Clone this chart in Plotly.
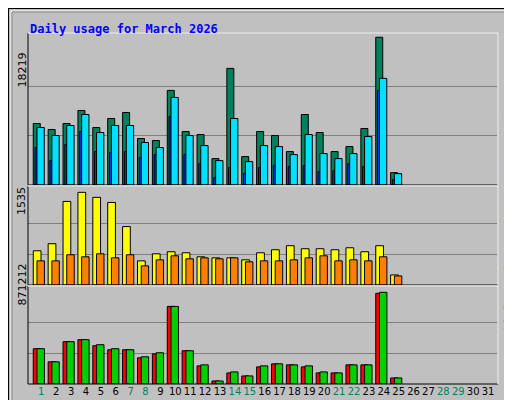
import plotly.graph_objects as go

days = list(range(1, 32))
data_days = list(range(1, 26))
hits_y = [346,364,346,307,358,331,313,391,397,247,370,379,451,181,445,370,382,430,319,373,430,415,361,88,493]
files_y = [358,382,352,319,373,352,352,403,418,268,382,412,457,331,460,412,415,439,379,436,451,436,385,211,496]
pages_y = [418,457,409,370,430,433,430,448,439,325,439,466,508,478,496,478,472,475,472,490,487,466,475,247,514]
hits = [round((530 - y) / 442 * 18219) for y in hits_y]
files = [round((530 - y) / 442 * 18219) for y in files_y]
pages = [round((530 - y) / 442 * 18219) for y in pages_y]
visits_y = [202,181,55,28,43,58,130,232,211,205,208,220,223,223,229,208,199,187,196,196,199,193,205,187,274]
sites_y = [232,232,214,220,211,223,214,247,229,217,226,223,226,223,235,232,232,229,223,217,232,229,232,220,277]
visits = [round((304 - y) / 276 * 1535) for y in visits_y]
sites = [round((304 - y) / 276 * 1535) for y in sites_y]
kbf_y = [496,535,475,469,487,499,499,523,511,370,502,547,592,568,577,550,541,544,550,568,568,544,544,331,583]
kbout_y = [496,535,475,469,484,496,499,520,508,370,502,544,592,565,577,547,541,544,547,565,568,544,544,328,583]
kb_f = [round((601 - y) / 273 * 871212) for y in kbf_y]
kb_out = [round((601 - y) / 273 * 871212) for y in kbout_y]
weekends = {1, 7, 8, 14, 15, 21, 22, 28, 29}
hits_max, visits_max, kb_max = 18219, 1535, 871212

fig = go.Figure()
line = dict(color="black", width=1)
def bar(y, color, off, w, ax):
    fig.add_trace(go.Bar(x=data_days, y=y, offset=off, width=w, marker=dict(color=color, line=line),
                         xaxis="x", yaxis=ax, showlegend=False))
bar(hits, "#00805C", -0.54, 0.47, "y")
bar(pages, "#0040FF", -0.42, 0.15, "y")
bar(files, "#00E0FF", -0.29, 0.49, "y")
bar(visits, "#FFFF00", -0.54, 0.52, "y2")
bar(sites, "#FF8000", -0.29, 0.5, "y2")
bar(kb_f, "#FF0000", -0.54, 0.47, "y3")
bar(kb_out, "#00D000", -0.29, 0.5, "y3")

def yax(dom, mx, top):
    return dict(domain=dom, range=[0, top], tickvals=[mx / 3, 2 * mx / 3], showticklabels=False,
                gridcolor="#808080", gridwidth=1, zeroline=False, fixedrange=True, automargin=False)

ticktext = [f'<span style="color:#00805C">{d}</span>' if d in weekends else str(d) for d in days]
fig.update_layout(
    width=512, height=400, margin=dict(l=0, r=0, t=0, b=0, autoexpand=False),
    paper_bgcolor="#C0C0C0", plot_bgcolor="#C0C0C0", barmode="overlay",
    xaxis=dict(domain=[20/512, 490/512], range=[0.107, 31.67], anchor="y3", tickvals=days, ticktext=ticktext,
               tickangle=0, automargin=False,
               tickfont=dict(family="DejaVu Sans", size=10, color="black"), ticks="", showgrid=False),
    yaxis=yax([0.5575, 0.9375], hits_max, hits_max * 1.029),
    yaxis2=yax([0.3075, 0.55], visits_max, visits_max * 1.047),
    yaxis3=yax([0.06, 0.30], kb_max, kb_max * 1.047),
    font=dict(family="DejaVu Sans Mono"),
)

anns = [
    dict(x=20/512, y=1-12/400, text="<b>Daily usage for March 2026</b>", xanchor="left",
         font=dict(color="#0000FF", size=12, family="DejaVu Sans Mono"), textangle=0),
    dict(x=14/512, y=1-43/400, text=str(hits_max), textangle=-90, font=dict(size=11, family="DejaVu Sans", color="black")),
    dict(x=14/512, y=1-193/400, text=str(visits_max), textangle=-90, font=dict(size=11, family="DejaVu Sans", color="black")),
    dict(x=14/512, y=1-299.5/400, text=str(kb_max), textangle=-90, font=dict(size=11, family="DejaVu Sans", color="black")),
    dict(x=500/512, y=1-82.5/400, textangle=-90, font=dict(size=11, color="#404040"),
         text='<span style="color:#00E0FF">Pages</span> / <span style="color:#0080FF">Files</span> / <span style="color:#00805C">Hits</span>'),
    dict(x=500/512, y=1-217/400, textangle=-90, font=dict(size=11, color="#404040"),
         text='<span style="color:#FF8000">Sites</span> / <span style="color:#FFFF00">Visits</span>'),
    dict(x=500/512, y=1-325/400, textangle=-90, font=dict(size=11, color="#404040"),
         text='<span style="color:#FF0000">kB F</span> / <span style="color:#0080FF">kB In</span> / <span style="color:#00D000">kB Out</span>'),
]
for a in anns:
    a.update(xref="paper", yref="paper", showarrow=False)
    a.setdefault("xanchor", "center")
    fig.add_annotation(**a)

shapes = [
    dict(type="rect", x0=0, x1=1, y0=0, y1=1, line=dict(color="black", width=2)),
    dict(type="rect", x0=3/512, x1=1-4/512, y0=4/400, y1=1-3/400, line=dict(color="white", width=1)),
    dict(type="rect", x0=4/512, x1=1-3/512, y0=3/400, y1=1-4/400, line=dict(color="#808080", width=1)),
]
for y0, y1 in [(25, 177), (178, 277), (278, 376)]:
    shapes.append(dict(type="rect", x0=20/512, x1=490/512, y0=1-y1/400, y1=1-y0/400, line=dict(color="black", width=1)))
    shapes.append(dict(type="line", x0=20/512, x1=490/512, y0=1-y0/400, y1=1-y0/400, line=dict(color="white", width=1.5)))
    shapes.append(dict(type="line", x0=490/512, x1=490/512, y0=1-y1/400, y1=1-y0/400, line=dict(color="white", width=1.5)))
for s in shapes:
    s.update(xref="paper", yref="paper", layer="above")
    fig.add_shape(**s)

fig.write_html("out.html")
